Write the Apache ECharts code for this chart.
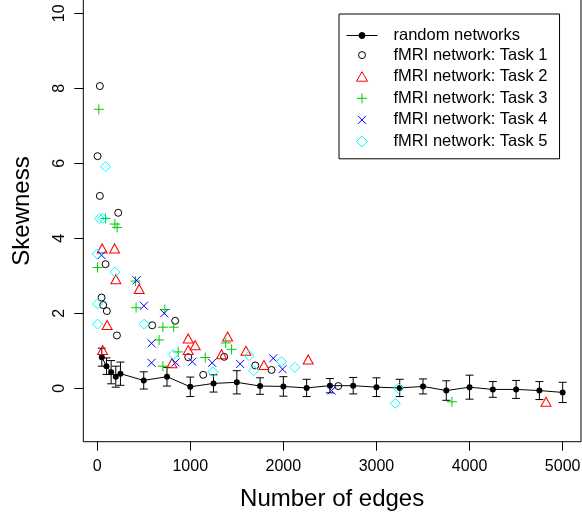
<!DOCTYPE html>
<html><head><meta charset="utf-8">
<script src="https://cdn.jsdelivr.net/npm/echarts@6/dist/echarts.min.js"></script>
<style>html,body{margin:0;padding:0;background:#fff}#c{width:582px;height:520px}</style>
</head><body><div id="c"></div>
<script>
// ---- data ----
const xTicks = [0, 1000, 2000, 3000, 4000, 5000];
const yTicks = [0, 2, 4, 6, 8, 10];
const randX = [50,100,150,200,250,500,750,1000,1250,1500,1750,2000,2250,2500,2750,3000,3250,3500,3750,4000,4250,4500,4750,5000];
const randY = [0.83,0.59,0.43,0.31,0.39,0.21,0.31,0.04,0.13,0.16,0.06,0.05,0.01,0.07,0.07,0.03,0.01,0.05,-0.06,0.03,-0.03,-0.03,-0.06,-0.11];
const randSD = [0.24,0.22,0.31,0.28,0.31,0.23,0.25,0.26,0.23,0.31,0.22,0.26,0.23,0.19,0.22,0.25,0.23,0.20,0.26,0.32,0.21,0.24,0.24,0.27];
const task1 = [[29,8.06],[4,6.19],[29,5.13],[226,4.68],[90,3.31],[47,2.42],[65,2.22],[104,2.06],[212,1.41],[591,1.68],[838,1.80],[978,0.83],[1139,0.36],[1364,0.84],[1698,0.61],[1873,0.49],[2590,0.06]];
const task2 = [[54,3.73],[187,3.73],[201,2.91],[451,2.65],[107,1.69],[58,1.02],[803,0.67],[978,1.33],[978,1.02],[1053,1.15],[1336,0.91],[1401,1.38],[1598,1.00],[1791,0.62],[2267,0.77],[4821,-0.36]];
const task3 = [[18,7.44],[90,4.53],[190,4.38],[215,4.29],[4,3.22],[412,2.86],[418,2.15],[727,2.10],[706,1.63],[822,1.63],[665,1.29],[870,0.97],[706,0.59],[1161,0.82],[1381,1.21],[1444,1.04],[3811,-0.36]];
const task4 = [[47,3.55],[423,2.88],[502,2.20],[720,2.00],[584,1.20],[584,0.68],[842,0.69],[1021,0.71],[1235,0.68],[1536,0.65],[1891,0.80],[1991,0.51],[2518,-0.06]];
const task5 = [[90,5.91],[25,4.53],[60,4.53],[0,3.58],[190,3.10],[4,2.25],[4,1.71],[505,1.71],[817,0.90],[1243,0.44],[1633,0.87],[1680,0.47],[1981,0.71],[2124,0.56],[3234,0.00],[3202,-0.40]];
const seriesNames = ['random networks','fMRI network: Task 1','fMRI network: Task 2','fMRI network: Task 3','fMRI network: Task 4','fMRI network: Task 5'];
const xTitle = 'Number of edges';
const yTitle = 'Skewness';

// ---- styles ----
const FONT = "'Liberation Sans', Arial, Helvetica, sans-serif";
const colors = ['#000000','#000000','#FF0000','#00CD00','#0000FF','#00FFFF'];
const symbols = ['circle','circle','triangle','path://M5,0L5,10M0,5L10,5','path://M0,0L10,10M10,0L0,10','path://M5,0L10,5L5,10L0,5Z'];
const symbolSizes = [6, 7, [10,9], 10, 8, 10];
const legendIcons = [
  'path://M0,0M42,18M0,9L31,9M18.5,9A3,3,0,1,1,12.5,9A3,3,0,1,1,18.5,9Z',
  'path://M0,0M42,18M19,9A3.5,3.5,0,1,1,12,9A3.5,3.5,0,1,1,19,9Z',
  'path://M0,0M42,18M15.5,4L21,13.5L10,13.5Z',
  'path://M0,0M42,18M10.5,9L20.5,9M15.5,4L15.5,14',
  'path://M0,0M42,18M11.5,5L19.5,13M19.5,5L11.5,13',
  'path://M0,0M42,18M15.5,3.5L21,9L15.5,14.5L10,9Z'
];

const chart = echarts.init(document.getElementById('c'), null, {renderer:'canvas'});
const tasks = [task1, task2, task3, task4, task5];

const series = [];
series.push({
  type:'custom', name:'errbars', silent:true, z:2,
  data: randX.map((x,i)=>[x, randY[i]-randSD[i], randY[i]+randSD[i]]),
  encode:{x:0, y:[1,2]},
  renderItem:(params, api)=>{
    const x = api.value(0);
    const lo = api.coord([x, api.value(1)]);
    const hi = api.coord([x, api.value(2)]);
    const hw = 4;
    const st = {stroke:'#000', lineWidth:1};
    return {type:'group', children:[
      {type:'line', shape:{x1:lo[0], y1:lo[1], x2:hi[0], y2:hi[1]}, style:st},
      {type:'line', shape:{x1:lo[0]-hw, y1:lo[1], x2:lo[0]+hw, y2:lo[1]}, style:st},
      {type:'line', shape:{x1:hi[0]-hw, y1:hi[1], x2:hi[0]+hw, y2:hi[1]}, style:st}
    ]};
  }
});
series.push({
  type:'line', name:seriesNames[0], z:3, silent:true,
  data: randX.map((x,i)=>[x, randY[i]]),
  symbol:'circle', symbolSize:symbolSizes[0], showAllSymbol:true,
  lineStyle:{color:'#000', width:1}, itemStyle:{color:'#000'}
});
tasks.forEach((t, k)=>{
  series.push({
    type:'scatter', name:seriesNames[k+1], z:4, silent:true,
    data:t, symbol:symbols[k+1], symbolSize:symbolSizes[k+1],
    itemStyle:{color:'none', borderColor:colors[k+1], borderWidth:1, opacity:1}
  });
});

chart.setOption({
  animation:false,
  backgroundColor:'#fff',
  textStyle:{fontFamily:FONT},
  grid:{left:83.3, right:1, top:-19.7, bottom:78.3, show:true, borderColor:'#000', borderWidth:1, backgroundColor:'transparent', containLabel:false, outerBoundsMode:'none'},
  legend:{
    orient:'vertical', left:339, top:14, padding:[12,12,5.8,5],
    itemWidth:42, itemHeight:18, itemGap:-1.4,
    borderColor:'#000', borderWidth:1, borderRadius:0, backgroundColor:'#fff',
    selectedMode:false, symbolKeepAspect:true,
    textStyle:{fontSize:16.5, lineHeight:18, color:'#000', fontFamily:FONT},
    data: seriesNames.map((n,i)=>({
      name:n, icon:legendIcons[i],
      itemStyle:{color: i===0 ? '#000' : 'none', borderColor:colors[i], borderWidth:1, opacity:1}
    }))
  },
  xAxis:{
    type:'value', min:-149, max:5197, position:'bottom',
    name:xTitle, nameLocation:'middle', nameGap:46,
    nameTextStyle:{fontSize:24, color:'#000', fontFamily:FONT},
    axisLine:{show:false, onZero:false},
    axisTick:{show:true, inside:false, customValues:xTicks, length:9, lineStyle:{color:'#000', width:1}},
    axisLabel:{show:true, inside:false, customValues:xTicks, fontSize:16, color:'#000', margin:17, fontFamily:FONT, formatter:v=>String(v)},
    splitLine:{show:false}
  },
  yAxis:{
    type:'value', min:-1.424, max:10.88, position:'left',
    name:yTitle, nameLocation:'middle', nameGap:49, nameRotate:90,
    nameTextStyle:{fontSize:24, color:'#000', fontFamily:FONT},
    axisLine:{show:false, onZero:false},
    axisTick:{show:true, inside:false, customValues:yTicks, length:9, lineStyle:{color:'#000', width:1}},
    axisLabel:{show:true, inside:false, customValues:yTicks, fontSize:16, color:'#000', margin:16, rotate:90, fontFamily:FONT, formatter:v=>String(v)},
    splitLine:{show:false}
  },
  series:series
});
</script>
</body></html>
